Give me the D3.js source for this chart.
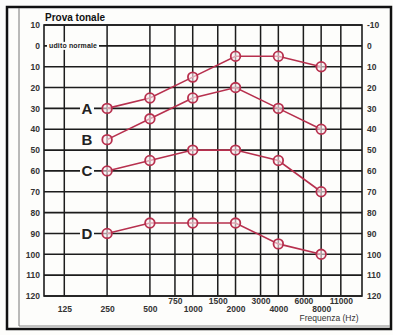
<!DOCTYPE html>
<html>
<head>
<meta charset="utf-8">
<script src="https://cdn.jsdelivr.net/npm/d3@7"></script>
<style>
  html, body { margin: 0; padding: 0; background: #fdfdfb; }
  svg { display: block; }
  text { font-family: "Liberation Sans", Arial, sans-serif; }
</style>
</head>
<body>
<svg id="chart" width="393" height="335"></svg>
<script>
// Test frequencies (Hz) where thresholds were measured
const freqs = [250, 500, 1000, 2000, 4000, 8000];
// Hearing thresholds (dB) for the four example curves
const seriesA = [30, 25, 15, 5, 5, 10];
const seriesB = [45, 35, 25, 20, 30, 40];
const seriesC = [60, 55, 50, 50, 55, 70];
const seriesD = [90, 85, 85, 85, 95, 100];
const seriesNames = ["A", "B", "C", "D"];

// Axis ticks
const dbTicks = [-10, 0, 10, 20, 30, 40, 50, 60, 70, 80, 90, 100, 110, 120];
const dbLabelsLeft = ["10", "0", "10", "20", "30", "40", "50", "60", "70", "80", "90", "100", "110", "120"];
const dbLabelsRight = ["-10", "0", "10", "20", "30", "40", "50", "60", "70", "80", "90", "100", "110", "120"];
const gridFreqs = [125, 250, 500, 750, 1000, 1500, 2000, 3000, 4000, 6000, 8000, 11000];
const freqLabelsLow = [125, 250, 500, 1000, 2000, 4000, 8000];
const freqLabelsHigh = [750, 1500, 3000, 6000, 11000];

const titleText = "Prova tonale";
const normalText = "udito normale";
const xTitle = "Frequenza (Hz)";

const svg = d3.select("#chart");
const red = "#b7304e";
const ink = "#1c1c1c";

// Page frame
svg.append("rect").attr("x", 7).attr("y", 7).attr("width", 384).attr("height", 322)
  .attr("fill", "none").attr("stroke", "#111").attr("stroke-width", 2.5);
svg.append("line").attr("x1", 19).attr("x2", 19).attr("y1", 8).attr("y2", 326)
  .attr("stroke", "#777").attr("stroke-width", 1);
svg.append("line").attr("x1", 19).attr("x2", 390).attr("y1", 326).attr("y2", 326)
  .attr("stroke", "#888").attr("stroke-width", 1);

const plotLeft = 44, plotRight = 362, plotTop = 25, plotBottom = 296;

const x = d3.scaleLog().domain([90, 15500]).range([plotLeft, plotRight]);
const y = d3.scaleLinear().domain([-10, 120]).range([plotTop, plotBottom]);

// Grid
const grid = svg.append("g");
grid.selectAll("line.h").data(dbTicks).join("line")
  .attr("class", "h")
  .attr("x1", plotLeft).attr("x2", plotRight)
  .attr("y1", d => y(d)).attr("y2", d => y(d))
  .attr("stroke", ink).attr("stroke-width", 1.6);
grid.selectAll("line.v").data(gridFreqs).join("line")
  .attr("class", "v")
  .attr("x1", d => x(d)).attr("x2", d => x(d))
  .attr("y1", y(-10)).attr("y2", y(120))
  .attr("stroke", ink).attr("stroke-width", 1.5);
grid.append("rect").attr("x", plotLeft).attr("y", y(-10))
  .attr("width", plotRight - plotLeft).attr("height", y(120) - y(-10))
  .attr("fill", "none").attr("stroke", ink).attr("stroke-width", 1.6);

// Left and right dB axes
const yLeft = d3.axisLeft(y).tickValues(dbTicks).tickSize(0).tickPadding(4)
  .tickFormat((d, i) => dbLabelsLeft[i]);
const gL = svg.append("g").attr("transform", `translate(${plotLeft},0)`).call(yLeft);
const yRight = d3.axisRight(y).tickValues(dbTicks).tickSize(0).tickPadding(5)
  .tickFormat((d, i) => dbLabelsRight[i]);
const gR = svg.append("g").attr("transform", `translate(${plotRight},0)`).call(yRight);
[gL, gR].forEach(g => {
  g.select(".domain").remove();
  g.selectAll("text").attr("font-size", 8.5).attr("fill", "#333").attr("font-weight", "bold");
});

// Frequency labels on two staggered rows
const xLow = d3.axisBottom(x).tickValues(freqLabelsLow).tickSize(0).tickPadding(0)
  .tickFormat(d3.format("d"));
const gXL = svg.append("g").attr("transform", `translate(0,${plotBottom + 10})`).call(xLow);
const xHigh = d3.axisBottom(x).tickValues(freqLabelsHigh).tickSize(0).tickPadding(0)
  .tickFormat(d3.format("d"));
const gXH = svg.append("g").attr("transform", `translate(0,${plotBottom + 2})`).call(xHigh);
[gXL, gXH].forEach(g => {
  g.select(".domain").remove();
  g.selectAll("text").attr("font-size", 8.5).attr("fill", "#333").attr("font-weight", "bold");
});

svg.append("text").attr("x", 329).attr("y", 321).attr("text-anchor", "middle")
  .attr("font-size", 8.5).attr("fill", "#333").text(xTitle);

// Title
svg.append("text").attr("x", 45).attr("y", 21)
  .attr("font-size", 10).attr("font-weight", "bold").attr("fill", "#111").text(titleText);

// "udito normale" note on the 0 dB line
const note = svg.append("g");
note.append("rect").attr("x", 47).attr("y", y(0) - 4).attr("width", 52).attr("height", 8)
  .attr("fill", "#fdfdfb");
note.append("text").attr("x", 49).attr("y", y(0) + 2.5)
  .attr("font-size", 7).attr("font-weight", "bold").attr("fill", "#222")
  .attr("textLength", 48).text(normalText);

// Curves with their letter labels
const allSeries = [seriesA, seriesB, seriesC, seriesD];
const line = d3.line().x((d, i) => x(freqs[i])).y(d => y(d));

allSeries.forEach((vals, k) => {
  const lx = 87;
  svg.append("rect").attr("x", lx - 7).attr("y", y(vals[0]) - 8)
    .attr("width", 14).attr("height", 16).attr("fill", "#fdfdfb");
  svg.append("text").attr("x", lx).attr("y", y(vals[0]) + 5.5)
    .attr("text-anchor", "middle").attr("font-size", 15).attr("font-weight", "bold")
    .attr("fill", "#222").text(seriesNames[k]);

  svg.append("path").datum(vals).attr("d", line)
    .attr("fill", "none").attr("stroke", red).attr("stroke-width", 1.6);
  svg.selectAll(null).data(vals).join("circle")
    .attr("cx", (d, i) => x(freqs[i])).attr("cy", d => y(d)).attr("r", 4.8)
    .attr("fill", "#fbeef1").attr("fill-opacity", 0.6)
    .attr("stroke", red).attr("stroke-width", 1.8);
});
</script>
</body>
</html>
